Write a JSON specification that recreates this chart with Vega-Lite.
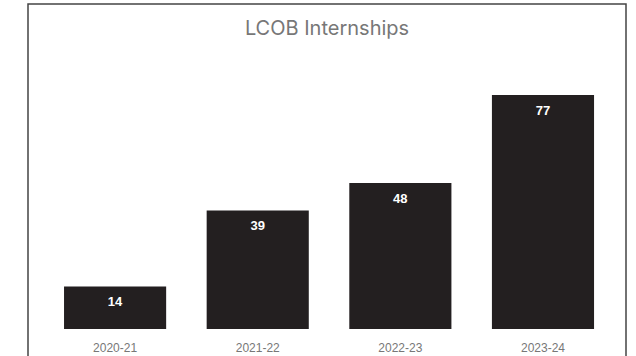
{
  "$schema": "https://vega.github.io/schema/vega-lite/v6.json",
  "autosize": "none",
  "width": 598,
  "height": 370,
  "padding": {"left": 28, "top": 4, "right": 10, "bottom": 0},
  "background": "white",
  "title": {
    "text": "LCOB Internships",
    "font": "Inter",
    "fontSize": 20,
    "fontWeight": "normal",
    "color": "#777777",
    "anchor": "middle",
    "offset": -35
  },
  "config": {
    "view": {"stroke": "#444444", "strokeWidth": 1.5}
  },
  "data": {
    "values": [
      {"year": "2020-21", "value": 14},
      {"year": "2021-22", "value": 39},
      {"year": "2022-23", "value": 48},
      {"year": "2023-24", "value": 77}
    ]
  },
  "encoding": {
    "x": {
      "field": "year",
      "type": "nominal",
      "sort": null,
      "scale": {"paddingInner": 0.284, "paddingOuter": 0.2383, "align": 0.53},
      "axis": {
        "title": null,
        "domain": false,
        "ticks": false,
        "labelAngle": 0,
        "labelFont": "Liberation Sans",
        "labelFontSize": 12,
        "labelColor": "#777777",
        "labelPadding": 13,
        "offset": -45,
        "grid": false
      }
    },
    "y": {
      "field": "value",
      "type": "quantitative",
      "scale": {"domain": [-14.81, 106.94], "nice": false, "zero": false},
      "axis": null
    }
  },
  "layer": [
    {
      "mark": {"type": "bar", "color": "#231f20"},
      "encoding": {"y2": {"datum": 0}}
    },
    {
      "mark": {
        "type": "text",
        "baseline": "middle",
        "dy": 16,
        "color": "white",
        "font": "Liberation Sans",
        "fontWeight": "bold",
        "fontSize": 13
      },
      "encoding": {"text": {"field": "value", "type": "quantitative"}}
    }
  ]
}
